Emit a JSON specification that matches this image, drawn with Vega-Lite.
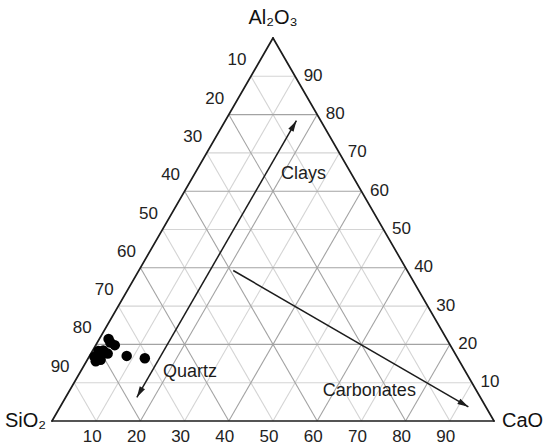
{
  "$schema": "https://vega.github.io/schema/vega-lite/v6.json",
  "width": 442,
  "height": 383,
  "autosize": {"type": "none"},
  "padding": {"left": 52, "top": 38, "right": 56, "bottom": 26},
  "background": "white",
  "config": {"view": {"stroke": null}, "font": "Liberation Sans"},
  "datasets": {
    "grid": [
      {"kind": "minor", "x": 5, "y": 10, "x2": 95, "y2": 10},
      {"kind": "minor", "x": 10, "y": 0, "x2": 55, "y2": 90},
      {"kind": "minor", "x": 10, "y": 0, "x2": 5, "y2": 10},
      {"kind": "minor", "x": 15, "y": 30, "x2": 85, "y2": 30},
      {"kind": "minor", "x": 30, "y": 0, "x2": 65, "y2": 70},
      {"kind": "minor", "x": 30, "y": 0, "x2": 15, "y2": 30},
      {"kind": "minor", "x": 25, "y": 50, "x2": 75, "y2": 50},
      {"kind": "minor", "x": 50, "y": 0, "x2": 75, "y2": 50},
      {"kind": "minor", "x": 50, "y": 0, "x2": 25, "y2": 50},
      {"kind": "minor", "x": 35, "y": 70, "x2": 65, "y2": 70},
      {"kind": "minor", "x": 70, "y": 0, "x2": 85, "y2": 30},
      {"kind": "minor", "x": 70, "y": 0, "x2": 35, "y2": 70},
      {"kind": "minor", "x": 45, "y": 90, "x2": 55, "y2": 90},
      {"kind": "minor", "x": 90, "y": 0, "x2": 95, "y2": 10},
      {"kind": "minor", "x": 90, "y": 0, "x2": 45, "y2": 90},
      {"kind": "major", "x": 10, "y": 20, "x2": 90, "y2": 20},
      {"kind": "major", "x": 20, "y": 0, "x2": 60, "y2": 80},
      {"kind": "major", "x": 20, "y": 0, "x2": 10, "y2": 20},
      {"kind": "major", "x": 20, "y": 40, "x2": 80, "y2": 40},
      {"kind": "major", "x": 40, "y": 0, "x2": 70, "y2": 60},
      {"kind": "major", "x": 40, "y": 0, "x2": 20, "y2": 40},
      {"kind": "major", "x": 30, "y": 60, "x2": 70, "y2": 60},
      {"kind": "major", "x": 60, "y": 0, "x2": 80, "y2": 40},
      {"kind": "major", "x": 60, "y": 0, "x2": 30, "y2": 60},
      {"kind": "major", "x": 40, "y": 80, "x2": 60, "y2": 80},
      {"kind": "major", "x": 80, "y": 0, "x2": 90, "y2": 20},
      {"kind": "major", "x": 80, "y": 0, "x2": 40, "y2": 80}
    ],
    "outline": [
      {"x": 0, "y": 0, "x2": 100, "y2": 0},
      {"x": 100, "y": 0, "x2": 50, "y2": 100},
      {"x": 50, "y": 100, "x2": 0, "y2": 0}
    ],
    "arrows": [
      {"arrow": "clays", "x": 19.2, "y": 6.2, "x2": 55.3, "y2": 78.4},
      {"arrow": "carbonates", "x": 41.0, "y": 39.3, "x2": 94.2, "y2": 3.7}
    ],
    "heads": [
      {"head": "clays-up", "x": 55.3, "y": 78.4},
      {"head": "clays-down", "x": 19.2, "y": 6.2},
      {"head": "carbonates", "x": 94.2, "y": 3.7}
    ],
    "samples": [
      {"x": 12.8, "y": 21.4},
      {"x": 14.2, "y": 19.8},
      {"x": 13.2, "y": 20.5},
      {"x": 10.5, "y": 18.3},
      {"x": 9.6, "y": 16.8},
      {"x": 11.0, "y": 16.0},
      {"x": 12.6, "y": 17.6},
      {"x": 9.9, "y": 15.6},
      {"x": 11.6, "y": 18.4},
      {"x": 10.4, "y": 17.2},
      {"x": 16.9, "y": 17.0},
      {"x": 21.0, "y": 16.4}
    ],
    "ticks": [
      {"side": "bottom", "x": 10, "y": 0, "label": "10"},
      {"side": "bottom", "x": 20, "y": 0, "label": "20"},
      {"side": "bottom", "x": 30, "y": 0, "label": "30"},
      {"side": "bottom", "x": 40, "y": 0, "label": "40"},
      {"side": "bottom", "x": 50, "y": 0, "label": "50"},
      {"side": "bottom", "x": 60, "y": 0, "label": "60"},
      {"side": "bottom", "x": 70, "y": 0, "label": "70"},
      {"side": "bottom", "x": 80, "y": 0, "label": "80"},
      {"side": "bottom", "x": 90, "y": 0, "label": "90"},
      {"side": "left", "x": 45, "y": 90, "label": "10"},
      {"side": "left", "x": 40, "y": 80, "label": "20"},
      {"side": "left", "x": 35, "y": 70, "label": "30"},
      {"side": "left", "x": 30, "y": 60, "label": "40"},
      {"side": "left", "x": 25, "y": 50, "label": "50"},
      {"side": "left", "x": 20, "y": 40, "label": "60"},
      {"side": "left", "x": 15, "y": 30, "label": "70"},
      {"side": "left", "x": 10, "y": 20, "label": "80"},
      {"side": "left", "x": 5, "y": 10, "label": "90"},
      {"side": "right", "x": 55, "y": 90, "label": "90"},
      {"side": "right", "x": 60, "y": 80, "label": "80"},
      {"side": "right", "x": 65, "y": 70, "label": "70"},
      {"side": "right", "x": 70, "y": 60, "label": "60"},
      {"side": "right", "x": 75, "y": 50, "label": "50"},
      {"side": "right", "x": 80, "y": 40, "label": "40"},
      {"side": "right", "x": 85, "y": 30, "label": "30"},
      {"side": "right", "x": 90, "y": 20, "label": "20"},
      {"side": "right", "x": 95, "y": 10, "label": "10"}
    ],
    "notes": [
      {"label": "Clays", "x": 56.9, "y": 63.1},
      {"label": "Quartz", "x": 31.2, "y": 11.5},
      {"label": "Carbonates", "x": 71.8, "y": 6.5}
    ],
    "vertices": [
      {"pos": "top", "label": "Al₂O₃", "x": 50, "y": 100},
      {"pos": "left", "label": "SiO₂", "x": 0, "y": 0},
      {"pos": "right", "label": "CaO", "x": 100, "y": 0}
    ]
  },
  "encoding": {
    "x": {"field": "x", "type": "quantitative", "scale": {"domain": [0, 100], "nice": false}, "axis": null},
    "y": {"field": "y", "type": "quantitative", "scale": {"domain": [0, 100], "nice": false}, "axis": null}
  },
  "layer": [
    {
      "data": {"name": "grid"},
      "mark": {"type": "rule", "strokeWidth": 1.1},
      "encoding": {
        "x2": {"field": "x2"},
        "y2": {"field": "y2"},
        "color": {"field": "kind", "type": "nominal", "scale": {"domain": ["major", "minor"], "range": ["#a3a3a3", "#d4d4d4"]}, "legend": null}
      }
    },
    {
      "data": {"name": "outline"},
      "mark": {"type": "rule", "strokeWidth": 1.7, "color": "#1c1c1c", "strokeCap": "round"},
      "encoding": {"x2": {"field": "x2"}, "y2": {"field": "y2"}}
    },
    {
      "data": {"name": "arrows"},
      "mark": {"type": "rule", "strokeWidth": 1.5, "color": "#1c1c1c"},
      "encoding": {"x2": {"field": "x2"}, "y2": {"field": "y2"}}
    },
    {
      "data": {"name": "heads"},
      "transform": [{"filter": "datum.head === 'clays-up'"}],
      "mark": {"type": "point", "shape": "M0,0L0.55,2L-0.55,2Z", "size": 121, "filled": true, "color": "#1c1c1c", "opacity": 1, "angle": 30}
    },
    {
      "data": {"name": "heads"},
      "transform": [{"filter": "datum.head === 'clays-down'"}],
      "mark": {"type": "point", "shape": "M0,0L0.55,2L-0.55,2Z", "size": 121, "filled": true, "color": "#1c1c1c", "opacity": 1, "angle": 210}
    },
    {
      "data": {"name": "heads"},
      "transform": [{"filter": "datum.head === 'carbonates'"}],
      "mark": {"type": "point", "shape": "M0,0L0.55,2L-0.55,2Z", "size": 121, "filled": true, "color": "#1c1c1c", "opacity": 1, "angle": 120}
    },
    {
      "data": {"name": "samples"},
      "mark": {"type": "circle", "size": 110, "color": "#000000", "opacity": 1}
    },
    {
      "data": {"name": "ticks"},
      "transform": [{"filter": "datum.side === 'bottom'"}],
      "mark": {"type": "text", "fontSize": 17, "color": "#222222", "align": "center", "baseline": "middle", "dx": -4, "dy": 16},
      "encoding": {"text": {"field": "label"}}
    },
    {
      "data": {"name": "ticks"},
      "transform": [{"filter": "datum.side === 'left'"}],
      "mark": {"type": "text", "fontSize": 17, "color": "#222222", "align": "center", "baseline": "middle", "dx": -14, "dy": -16},
      "encoding": {"text": {"field": "label"}}
    },
    {
      "data": {"name": "ticks"},
      "transform": [{"filter": "datum.side === 'right'"}],
      "mark": {"type": "text", "fontSize": 17, "color": "#222222", "align": "center", "baseline": "middle", "dx": 18, "dy": -0.5},
      "encoding": {"text": {"field": "label"}}
    },
    {
      "data": {"name": "notes"},
      "mark": {"type": "text", "fontSize": 18, "color": "#1c1c1c", "align": "center", "baseline": "alphabetic"},
      "encoding": {"text": {"field": "label"}}
    },
    {
      "data": {"name": "vertices"},
      "transform": [{"filter": "datum.pos === 'top'"}],
      "mark": {"type": "text", "fontSize": 20, "color": "#111111", "align": "center", "baseline": "alphabetic", "dy": -14},
      "encoding": {"text": {"field": "label"}}
    },
    {
      "data": {"name": "vertices"},
      "transform": [{"filter": "datum.pos === 'left'"}],
      "mark": {"type": "text", "fontSize": 20, "color": "#111111", "align": "right", "baseline": "alphabetic", "dx": -6, "dy": 6},
      "encoding": {"text": {"field": "label"}}
    },
    {
      "data": {"name": "vertices"},
      "transform": [{"filter": "datum.pos === 'right'"}],
      "mark": {"type": "text", "fontSize": 20, "color": "#111111", "align": "left", "baseline": "alphabetic", "dx": 8, "dy": 6},
      "encoding": {"text": {"field": "label"}}
    }
  ]
}
